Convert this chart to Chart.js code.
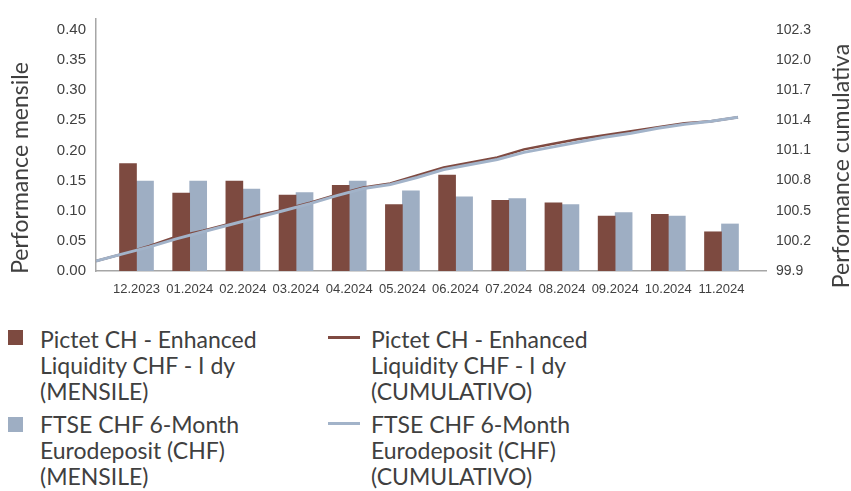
<!DOCTYPE html>
<html>
<head>
<meta charset="utf-8">
<script src="https://cdn.jsdelivr.net/npm/chart.js@4.4.1/dist/chart.umd.min.js"></script>
<style>
body { margin: 0; background: #fff; width: 851px; height: 491px; overflow: hidden; position: relative; font-family: Lato, sans-serif; color: #404040; }
#grafico { position: absolute; left: 0; top: 0; }
.leg { position: absolute; font-size: 23px; line-height: 26px; white-space: nowrap; }
.sq { position: absolute; width: 15px; height: 15px; }
.ln { position: absolute; width: 32px; height: 3px; }
</style>
</head>
<body>
<canvas id="grafico" width="851" height="310"></canvas>

<div class="sq" style="left:8px;top:330px;background:#7d4a40"></div>
<div class="leg" style="left:40px;top:326px">Pictet CH - Enhanced<br>Liquidity CHF - I dy<br>(MENSILE)</div>
<div class="sq" style="left:8px;top:417px;background:#9eaec3"></div>
<div class="leg" style="left:40px;top:411px">FTSE CHF 6-Month<br>Eurodeposit (CHF)<br>(MENSILE)</div>
<div class="ln" style="left:328px;top:336px;background:#7f4a41"></div>
<div class="leg" style="left:371px;top:326px">Pictet CH - Enhanced<br>Liquidity CHF - I dy<br>(CUMULATIVO)</div>
<div class="ln" style="left:328px;top:422px;background:#a2b3c9"></div>
<div class="leg" style="left:371px;top:411px">FTSE CHF 6-Month<br>Eurodeposit (CHF)<br>(CUMULATIVO)</div>

<script>
// dati
const mesi = ['12.2023', '01.2024', '02.2024', '03.2024', '04.2024', '05.2024', '06.2024', '07.2024', '08.2024', '09.2024', '10.2024', '11.2024'];
const pictetMensile = [0.178, 0.129, 0.149, 0.126, 0.142, 0.110, 0.159, 0.117, 0.113, 0.091, 0.094, 0.065];
const ftseMensile = [0.149, 0.149, 0.136, 0.130, 0.149, 0.133, 0.123, 0.120, 0.110, 0.097, 0.091, 0.078];

// performance cumulativa, ogni mezzo mese
const lineaX = [0, 0.5, 1, 1.5, 2, 2.5, 3, 3.5, 4, 4.5, 5, 5.5, 6, 6.5, 7, 7.5, 8, 8.5, 9, 9.5, 10, 10.5, 11, 11.5, 12];
const pictetCumulativo = [100.00, 100.07, 100.15, 100.24, 100.30, 100.37, 100.45, 100.51, 100.58, 100.66, 100.73, 100.77, 100.85, 100.93, 100.98, 101.03, 101.11, 101.16, 101.21, 101.25, 101.29, 101.33, 101.37, 101.39, 101.43];
const ftseCumulativo = [100.00, 100.07, 100.14, 100.22, 100.29, 100.36, 100.43, 100.50, 100.57, 100.65, 100.72, 100.76, 100.83, 100.91, 100.96, 101.01, 101.08, 101.13, 101.18, 101.23, 101.27, 101.32, 101.36, 101.39, 101.43];

const tickSinistra = [0, 0.05, 0.10, 0.15, 0.20, 0.25, 0.30, 0.35, 0.40];
const tickDestra = [99.9, 100.2, 100.5, 100.8, 101.1, 101.4, 101.7, 102.0, 102.3];

const rosso = '#7d4a40';
const azzurro = '#9eaec3';
const famigliaTick = "'Liberation Sans Narrow', 'Liberation Sans', sans-serif";

// titoli degli assi (entrambi ruotati dal basso verso l'alto)
const titoliAssi = {
    id: 'titoliAssi',
    afterDraw(chart) {
        const ctx = chart.ctx;
        ctx.save();
        ctx.font = '23px Lato';
        ctx.fillStyle = '#404040';
        ctx.textAlign = 'center';
        ctx.textBaseline = 'middle';
        [[21, 168, 'Performance mensile'], [842, 166, 'Performance cumulativa']].forEach(t => {
            ctx.save();
            ctx.translate(t[0], t[1]);
            ctx.rotate(-Math.PI / 2);
            ctx.fillText(t[2], 0, 0);
            ctx.restore();
        });
        ctx.restore();
    }
};

new Chart(document.getElementById('grafico').getContext('2d'), {
    data: {
        datasets: [
            {
                type: 'line',
                label: 'FTSE CHF 6-Month Eurodeposit (CHF) (CUMULATIVO)',
                data: lineaX.map((x, i) => ({ x: x, y: ftseCumulativo[i] })),
                borderColor: '#a2b3c9',
                borderWidth: 3,
                pointRadius: 0,
                xAxisID: 'x2',
                yAxisID: 'y2',
                order: 0
            },
            {
                type: 'line',
                label: 'Pictet CH - Enhanced Liquidity CHF - I dy (CUMULATIVO)',
                data: lineaX.map((x, i) => ({ x: x, y: pictetCumulativo[i] })),
                borderColor: '#7f4a41',
                borderWidth: 2.5,
                pointRadius: 0,
                xAxisID: 'x2',
                yAxisID: 'y2',
                order: 1
            },
            {
                type: 'bar',
                label: 'Pictet CH - Enhanced Liquidity CHF - I dy (MENSILE)',
                data: mesi.map((m, i) => ({ x: i, y: pictetMensile[i] })),
                backgroundColor: rosso,
                barThickness: 17,
                xAxisID: 'x',
                yAxisID: 'y',
                order: 2
            },
            {
                type: 'bar',
                label: 'FTSE CHF 6-Month Eurodeposit (CHF) (MENSILE)',
                data: mesi.map((m, i) => ({ x: i, y: ftseMensile[i] })),
                backgroundColor: azzurro,
                barThickness: 17,
                xAxisID: 'x',
                yAxisID: 'y',
                order: 2
            }
        ]
    },
    options: {
        responsive: false,
        animation: false,
        layout: { padding: { top: 13, left: 0, right: 0, bottom: 0 } },
        plugins: {
            legend: { display: false },
            tooltip: { enabled: false }
        },
        scales: {
            x: {
                type: 'linear',
                offset: false,
                min: -0.7616,
                max: 11.837,
                grid: { display: false, drawTicks: false, offset: false },
                border: { display: true, color: '#a6a6a6', width: 1.5 },
                ticks: {
                    color: '#404040',
                    font: { family: famigliaTick, size: 13 },
                    padding: 11,
                    maxRotation: 0,
                    autoSkip: false,
                    callback: v => mesi[v]
                },
                afterBuildTicks: s => { s.ticks = mesi.map((m, i) => ({ value: i })); },
                afterFit: s => { s.height = 39; }
            },
            x2: {
                type: 'linear',
                display: false,
                offset: false,
                min: 0,
                max: 12.523
            },
            y: {
                position: 'left',
                min: 0,
                max: 0.4178,
                grid: { display: false, drawTicks: false },
                border: { display: true, color: '#a6a6a6', width: 1.5 },
                ticks: {
                    color: '#404040',
                    font: { family: famigliaTick, size: 15 },
                    padding: 10,
                    callback: v => v.toFixed(2)
                },
                afterBuildTicks: s => { s.ticks = tickSinistra.map(v => ({ value: v })); },
                afterFit: s => { s.width = 96; }
            },
            y2: {
                position: 'right',
                min: 99.9,
                max: 102.407,
                grid: { display: false, drawTicks: false },
                border: { display: false },
                ticks: {
                    color: '#404040',
                    font: { family: famigliaTick, size: 14 },
                    padding: 10,
                    callback: v => v.toFixed(1)
                },
                afterBuildTicks: s => { s.ticks = tickDestra.map(v => ({ value: v })); },
                afterFit: s => { s.width = 85; }
            }
        }
    },
    plugins: [titoliAssi]
});
</script>
</body>
</html>
